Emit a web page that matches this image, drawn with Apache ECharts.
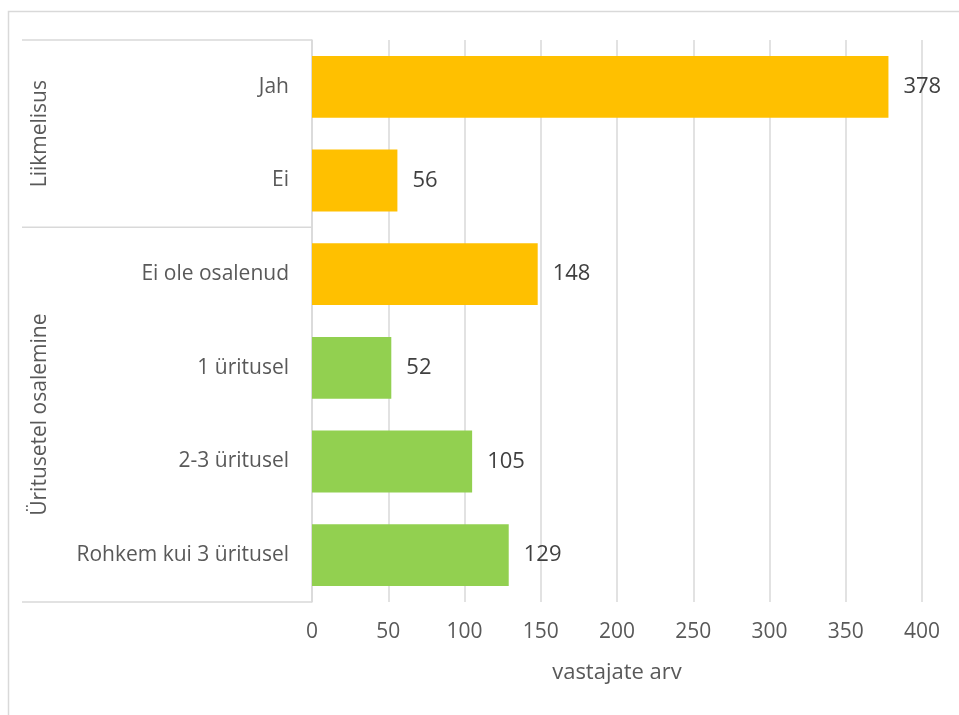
<!DOCTYPE html>
<html><head><meta charset="utf-8">
<script src="https://cdn.jsdelivr.net/npm/echarts@6/dist/echarts.min.js"></script>
<style>html,body{margin:0;padding:0;background:#fff}#c{width:959px;height:715px}</style>
</head><body><div id="c"></div>
<script>
const categories = ['Jah','Ei','Ei ole osalenud','1 üritusel','2-3 üritusel','Rohkem kui 3 üritusel'];
const orangeValues = [378, 56, 148, null, null, null];
const greenValues = [null, null, null, 52, 105, 129];
const groups = [{name:'Liikmelisus', from:0, to:1}, {name:'Üritusetel osalemine', from:2, to:5}];
const xTicks = [0, 400, 50];
const xTitle = 'vastajate arv';

(function(){
const FONT = '"Open Sans", sans-serif';
const chart = echarts.init(document.getElementById('c'), null, {renderer:'canvas'});
const lbl = {show:true, position:'right', distance:15, color:'#404040', fontSize:22, fontFamily:FONT};
const gTop = 40, gBottomPad = 113, gLeft = 312, gRight = 37;
chart.setOption({
  animation:false,
  grid:{left:gLeft, right:gRight, top:gTop, bottom:gBottomPad, containLabel:false},
  xAxis:{type:'value', min:xTicks[0], max:xTicks[1], interval:xTicks[2],
    axisLine:{show:false}, axisTick:{show:false},
    splitLine:{lineStyle:{color:'#D9D9D9', width:1.5}},
    axisLabel:{color:'#595959', fontSize:21, fontFamily:FONT, margin:20},
    name:xTitle, nameLocation:'middle', nameGap:60,
    nameTextStyle:{color:'#595959', fontSize:22, fontFamily:FONT}},
  yAxis:{type:'category', data:categories, inverse:true,
    axisLine:{show:true, lineStyle:{color:'#D9D9D9', width:1.5}},
    axisTick:{show:false},
    axisLabel:{color:'#595959', fontSize:21, fontFamily:FONT, margin:23}},
  series:[
    {type:'bar', data:orangeValues, barCategoryGap:'34%', barGap:'-100%', itemStyle:{color:'#FFC000'}, label:lbl},
    {type:'bar', data:greenValues, barCategoryGap:'34%', barGap:'-100%', itemStyle:{color:'#92D050'}, label:lbl}
  ]
});

const yBottom = 715 - gBottomPad;
const band = (yBottom - gTop)/categories.length;
const g = [];
g.push({type:'rect', shape:{x:8.5, y:11.5, width:1000, height:1000}, style:{fill:null, stroke:'#D9D9D9', lineWidth:1.5}, silent:true, z:-1});
const boundaries = [0];
groups.forEach(gr => boundaries.push(gr.to+1));
boundaries.forEach(b => {
  const y = gTop + b*band;
  g.push({type:'line', shape:{x1:22, y1:y, x2:gLeft, y2:y}, style:{stroke:'#D9D9D9', lineWidth:1.5}, silent:true});
});
groups.forEach(gr => {
  const yc = gTop + (gr.from + gr.to + 1)/2*band;
  g.push({type:'text', x:40, y:yc, rotation:Math.PI/2,
    style:{text:gr.name, fill:'#595959', fontSize:21, fontFamily:FONT, align:'center', verticalAlign:'middle'}});
});
chart.setOption({graphic:g});
})();
</script></body></html>
